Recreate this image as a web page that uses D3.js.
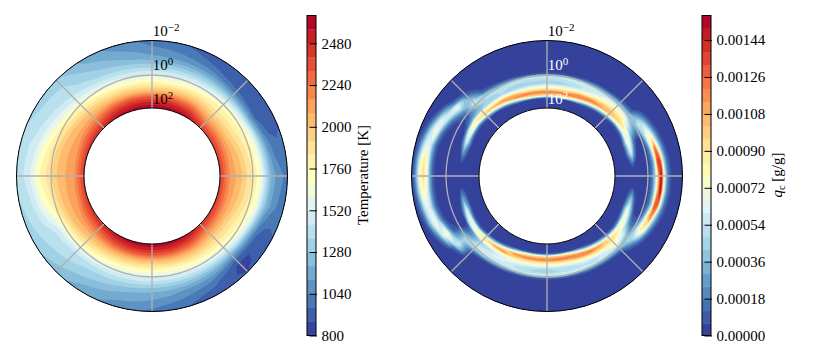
<!DOCTYPE html>
<html>
<head>
<meta charset="utf-8">
<script src="https://cdnjs.cloudflare.com/ajax/libs/d3/7.8.5/d3.min.js"></script>
<style>
  body { margin: 0; background: white; }
  svg text { font-family: "Liberation Serif", serif; }
</style>
</head>
<body>
<div id="chart"></div>
<script>
// one line per azimuth (0 = top, clockwise, 15 deg steps), outer radius first
var tempByAzimuth = [
  [1000,1040,1090,1140,1260,1380,1520,1690,1860,2040,2320,2500,2640],
  [960,1000,1050,1120,1240,1380,1530,1700,1880,2060,2320,2500,2620],
  [910,930,980,1080,1220,1390,1560,1740,1900,2060,2280,2450,2590],
  [880,890,910,990,1170,1420,1630,1780,1860,1980,2110,2290,2440],
  [920,890,880,950,1150,1480,1700,1800,1880,1990,2120,2290,2420],
  [990,970,1000,1110,1340,1640,1780,1860,1960,2040,2120,2270,2430],
  [1020,1050,1100,1220,1450,1710,1830,1900,2000,2070,2120,2270,2440],
  [1000,1020,1070,1180,1400,1680,1800,1870,1970,2050,2120,2270,2440],
  [950,920,910,980,1200,1520,1720,1810,1890,2000,2130,2300,2440],
  [880,860,860,950,1130,1400,1620,1770,1870,2000,2150,2320,2470],
  [900,930,990,1080,1210,1380,1560,1740,1900,2060,2270,2440,2580],
  [960,1000,1060,1120,1240,1380,1530,1700,1880,2060,2310,2490,2620],
  [1020,1060,1120,1160,1260,1390,1520,1690,1860,2040,2320,2500,2640],
  [1080,1110,1160,1210,1300,1410,1530,1690,1860,2040,2310,2490,2620],
  [1140,1170,1230,1290,1340,1430,1560,1730,1890,2060,2280,2440,2580],
  [1230,1270,1310,1360,1390,1450,1620,1810,1950,2060,2210,2360,2500],
  [1300,1340,1370,1400,1430,1500,1690,1870,2010,2090,2180,2330,2460],
  [1340,1380,1420,1500,1630,1740,1840,1950,2050,2090,2130,2280,2440],
  [1400,1430,1480,1600,1760,1830,1900,1990,2060,2090,2110,2260,2430],
  [1390,1420,1450,1520,1660,1770,1870,1970,2050,2090,2120,2280,2440],
  [1330,1360,1390,1440,1510,1620,1780,1900,2020,2080,2180,2330,2470],
  [1300,1340,1370,1390,1440,1520,1680,1830,1960,2070,2210,2360,2500],
  [1160,1200,1250,1300,1350,1450,1580,1750,1900,2060,2290,2450,2590],
  [1080,1110,1160,1210,1300,1400,1530,1700,1870,2050,2320,2490,2620]
];

// cloud mixing ratio in 1e-5 g/g, 7.5 deg steps, rows run from r=135 to r=72 px
var qcByAzimuth = [
  [0,0,0,0,0,0,0,0,0,0,0,10,55,50,42,68,88,122,98,8,0,0],
  [0,0,0,0,0,0,0,0,0,0,0,10,55,50,44,66,88,122,98,8,0,0],
  [0,0,0,0,0,0,0,0,0,0,0,12,58,52,48,70,95,125,90,6,0,0],
  [0,0,0,0,0,0,0,0,0,0,2,18,58,54,56,78,115,118,60,3,0,0],
  [0,0,0,0,0,0,0,0,0,0,4,25,55,58,70,92,125,95,25,0,0,0],
  [0,0,0,0,0,0,0,0,0,0,6,30,55,68,84,104,115,55,8,0,0,0],
  [0,0,0,0,0,0,0,0,0,2,10,38,60,78,92,104,94,30,3,0,0,0],
  [0,0,0,0,0,0,0,0,2,6,15,38,55,80,88,98,70,12,0,0,0,0],
  [0,0,0,0,0,0,4,14,30,48,55,42,30,42,52,84,66,12,0,0,0,0],
  [0,0,0,0,0,4,14,35,68,78,52,18,5,6,18,56,78,34,3,0,0,0],
  [0,0,0,0,2,10,30,70,125,75,24,6,1,0,2,22,60,30,4,0,0,0],
  [0,0,0,0,6,18,50,135,135,45,16,5,1,0,0,0,8,6,0,0,0,0],
  [0,0,0,2,8,22,66,156,105,48,18,6,1,0,0,0,0,0,0,0,0,0],
  [0,0,0,2,8,22,66,156,105,46,16,5,1,0,0,0,4,3,0,0,0,0],
  [0,0,0,0,6,16,48,130,132,46,16,5,1,0,0,12,40,22,2,0,0,0],
  [0,0,0,0,2,8,24,55,118,95,38,12,3,2,8,40,72,38,5,0,0,0],
  [0,0,0,0,0,0,8,26,62,88,68,34,14,16,34,68,78,24,2,0,0,0],
  [0,0,0,0,0,0,0,5,14,30,46,46,38,58,62,88,68,14,0,0,0,0],
  [0,0,0,0,0,0,0,0,0,2,10,35,55,78,85,95,85,25,2,0,0,0],
  [0,0,0,0,0,0,0,0,0,0,5,28,55,60,75,100,112,50,6,0,0,0],
  [0,0,0,0,0,0,0,0,0,0,3,25,55,50,68,92,125,90,22,1,0,0],
  [0,0,0,0,0,0,0,0,0,0,1,20,58,52,60,80,115,118,55,3,0,0],
  [0,0,0,0,0,0,0,0,0,0,0,15,60,50,52,72,98,125,95,8,0,0],
  [0,0,0,0,0,0,0,0,0,0,0,13,60,48,48,70,90,125,100,10,0,0],
  [0,0,0,0,0,0,0,0,0,0,0,12,58,44,48,68,88,122,100,10,0,0],
  [0,0,0,0,0,0,0,0,0,0,0,12,58,46,50,68,88,122,98,10,0,0],
  [0,0,0,0,0,0,0,0,0,0,0,14,55,50,55,72,92,122,90,8,0,0],
  [0,0,0,0,0,0,0,0,0,0,0,20,55,55,62,72,100,118,55,3,0,0],
  [0,0,0,0,0,0,0,0,0,0,3,30,55,60,60,72,118,88,20,0,0,0],
  [0,0,0,0,0,0,0,0,0,0,8,40,58,60,50,76,112,48,5,0,0,0],
  [0,0,0,0,0,0,0,0,0,4,18,48,58,50,45,85,90,25,2,0,0,0],
  [0,0,0,0,2,6,16,50,58,48,44,48,34,22,24,76,66,12,0,0,0,0],
  [0,0,2,8,24,56,74,74,30,12,8,6,3,0,6,58,70,16,0,0,0,0],
  [0,3,12,36,60,74,50,22,8,2,0,0,0,0,0,25,62,28,3,0,0,0],
  [2,8,24,52,64,56,28,10,3,0,0,0,0,0,0,6,30,18,0,0,0,0],
  [3,14,40,72,80,62,30,10,3,0,0,0,0,0,0,0,4,3,0,0,0,0],
  [4,18,50,84,94,72,32,11,3,0,0,0,0,0,0,0,0,0,0,0,0,0],
  [3,16,44,78,90,68,30,10,3,0,0,0,0,0,0,0,3,0,0,0,0,0],
  [2,10,28,54,66,58,30,10,3,0,0,0,0,0,0,0,25,14,0,0,0,0],
  [0,4,12,32,56,78,60,26,9,3,0,0,0,0,0,25,60,28,3,0,0,0],
  [0,0,2,8,24,48,60,58,30,12,6,3,0,2,10,58,74,20,2,0,0,0],
  [0,0,0,0,2,8,24,62,66,44,24,16,10,18,34,84,74,16,0,0,0,0],
  [0,0,0,0,0,0,6,12,24,38,50,58,44,34,42,88,98,32,3,0,0,0],
  [0,0,0,0,0,0,0,0,2,6,14,42,50,46,46,78,108,55,6,0,0,0],
  [0,0,0,0,0,0,0,0,0,1,8,30,50,48,48,74,118,88,20,0,0,0],
  [0,0,0,0,0,0,0,0,0,0,4,22,55,48,45,68,108,118,52,3,0,0],
  [0,0,0,0,0,0,0,0,0,0,0,15,55,48,42,66,92,125,88,6,0,0],
  [0,0,0,0,0,0,0,0,0,0,0,11,55,50,42,66,90,122,98,8,0,0]
];

var tempLevels = d3.range(800, 2640, 80);
var qcLevels = d3.range(0, 156, 6);
var tempTicks = [800, 1040, 1280, 1520, 1760, 2000, 2240, 2480];
var qcTicks = [0, 18, 36, 54, 72, 90, 108, 126, 144];
var pressureExponents = ["\u22122", "0", "2"];

var width = 830, height = 361;
var outerR = 135.5, innerR = 68, midR = 101;
var cy = 176;

var svg = d3.select("#chart").append("svg")
    .attr("width", width)
    .attr("height", height)
    .style("display", "block");

var rdylbu = d3.scaleLinear()
    .domain(d3.range(11).map(function(i) { return i / 10; }))
    .range(d3.schemeRdYlBu[11].slice().reverse());

function drawField(cx, grid, levels, step, vmax, rTop, rBottom, labelColor) {
  var ncol = grid.length + 1, nrow = grid[0].length;
  var flat = [];
  for (var j = 0; j < nrow; j++) {
    for (var i = 0; i < ncol; i++) {
      flat.push(grid[i % grid.length][j]);
    }
  }
  // grid index -> polar, clamped so the half cell rim collapses on the ring
  var angle = d3.scaleLinear().domain([0.5, ncol - 0.5]).range([0, 2 * Math.PI]).clamp(true);
  var radius = d3.scaleLinear().domain([0.5, nrow - 0.5]).range([rTop, rBottom]).clamp(true);
  var vmin = levels[0];

  var g = svg.append("g").attr("transform", "translate(" + cx + "," + cy + ")");

  g.append("path")
      .attr("d", d3.arc().innerRadius(innerR).outerRadius(outerR).startAngle(0).endAngle(2 * Math.PI)())
      .attr("fill", rdylbu((step / 2) / (vmax - vmin)));

  var contours = d3.contours().size([ncol, nrow]).thresholds(levels)(flat);

  function ringPath(ring) {
    var d = "";
    for (var k = 0; k < ring.length - 1; k++) {
      for (var s = 0; s < 4; s++) {
        var x = ring[k][0] + (ring[k + 1][0] - ring[k][0]) * s / 4;
        var y = ring[k][1] + (ring[k + 1][1] - ring[k][1]) * s / 4;
        var a = angle(x), r = radius(y);
        d += (d ? "L" : "M") + (r * Math.sin(a)).toFixed(2) + "," + (-r * Math.cos(a)).toFixed(2);
      }
    }
    return d + "Z";
  }

  g.selectAll("path.band")
      .data(contours)
      .enter().append("path")
      .attr("class", "band")
      .attr("fill-rule", "evenodd")
      .attr("fill", function(c) { return rdylbu((c.value + step / 2 - vmin) / (vmax - vmin)); })
      .attr("d", function(c) {
        return c.coordinates.map(function(poly) { return poly.map(ringPath).join(""); }).join("");
      });

  // gridlines
  g.selectAll("line.spoke")
      .data(d3.range(0, 360, 45))
      .enter().append("line")
      .attr("class", "spoke")
      .attr("x1", function(d) { return innerR * Math.sin(d * Math.PI / 180); })
      .attr("y1", function(d) { return -innerR * Math.cos(d * Math.PI / 180); })
      .attr("x2", function(d) { return outerR * Math.sin(d * Math.PI / 180); })
      .attr("y2", function(d) { return -outerR * Math.cos(d * Math.PI / 180); })
      .attr("stroke", "#b0b0b0")
      .attr("stroke-width", 1.3);
  g.append("circle").attr("r", midR).attr("fill", "none").attr("stroke", "#b0b0b0").attr("stroke-width", 1.3);

  g.append("circle").attr("r", outerR).attr("fill", "none").attr("stroke", "black").attr("stroke-width", 1);
  g.append("circle").attr("r", innerR).attr("fill", "white").attr("stroke", "black").attr("stroke-width", 1);

  // pressure labels
  var baselines = [-140, -106, -72];
  pressureExponents.forEach(function(exp, i) {
    var t = g.append("text")
        .attr("x", 0.8)
        .attr("y", baselines[i])
        .attr("font-size", 15)
        .attr("fill", i === 0 ? "black" : labelColor);
    t.append("tspan").text("10");
    t.append("tspan").attr("dy", -5).attr("font-size", 11).text(exp);
  });
}

function drawColorbar(x, levels, step, vmax, ticks, fmt) {
  var vmin = levels[0];
  var y = d3.scaleLinear().domain([vmin, vmax]).range([335.5, 15.5]);
  var barW = 9;
  var g = svg.append("g").attr("transform", "translate(" + x + ",0)");

  g.selectAll("rect")
      .data(levels)
      .enter().append("rect")
      .attr("x", 0)
      .attr("width", barW)
      .attr("y", function(d) { return y(d + step); })
      .attr("height", function(d) { return y(d) - y(d + step) + 0.3; })
      .attr("fill", function(d) { return rdylbu((d + step / 2 - vmin) / (vmax - vmin)); });

  g.append("rect")
      .attr("width", barW)
      .attr("y", y(vmax))
      .attr("height", y(vmin) - y(vmax))
      .attr("fill", "none")
      .attr("stroke", "black")
      .attr("stroke-width", 1);

  var axis = g.append("g")
      .attr("transform", "translate(" + barW + ",0)")
      .call(d3.axisRight(y).tickValues(ticks).tickSize(1).tickPadding(4.5).tickFormat(fmt));
  axis.select(".domain").remove();
  axis.selectAll("text").attr("font-size", 15).attr("font-family", "Liberation Serif").attr("fill", "black");
  // ticks sit mostly inside the bar
  axis.selectAll("line").attr("stroke", "black").attr("x1", -6.5).attr("x2", 1);
}

drawField(152, tempByAzimuth, tempLevels, 80, 2640, outerR, innerR, "black");
drawField(547, qcByAzimuth, qcLevels, 6, 156, 135.5, 72, "white");

drawColorbar(307, tempLevels, 80, 2640, tempTicks, function(d) { return d; });
drawColorbar(702, qcLevels, 6, 156, qcTicks, function(d) { return (d * 1e-5).toFixed(5); });

svg.append("text")
    .attr("transform", "translate(368,175) rotate(-90)")
    .attr("text-anchor", "middle")
    .attr("font-size", 15)
    .text("Temperature [K]");

var qLabel = svg.append("text")
    .attr("transform", "translate(782,175) rotate(-90)")
    .attr("text-anchor", "middle")
    .attr("font-size", 15);
qLabel.append("tspan").attr("font-style", "italic").text("q");
qLabel.append("tspan").attr("font-size", 10.5).attr("dy", 2.5).text("c");
qLabel.append("tspan").attr("dy", -2.5).text(" [g/g]");
</script>
</body>
</html>
